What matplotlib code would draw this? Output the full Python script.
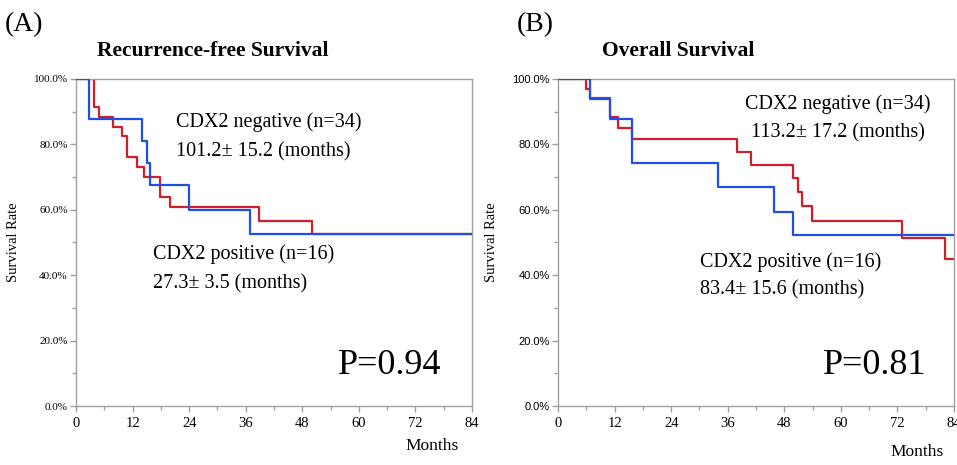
import matplotlib
matplotlib.use("Agg")
import matplotlib.pyplot as plt
from matplotlib.ticker import MultipleLocator, FuncFormatter

# ---- data ----
rfs_neg_t = [0, 3.9, 4.95, 7.9, 9.8, 10.75, 12.9, 14.5, 17.8, 19.9, 38.9, 50.0, 84]
rfs_neg_s = [100, 91.5, 88.5, 85.4, 82.6, 76.2, 73.2, 70.1, 64.0, 61.0, 56.6, 52.5, 52.5]
rfs_pos_t = [0, 2.8, 13.9, 15.0, 15.8, 23.9, 36.9, 84]
rfs_pos_s = [100, 87.7, 81.0, 74.2, 67.5, 60.0, 52.6, 52.6]

os_neg_t = [0, 5.9, 6.8, 11.0, 12.8, 15.8, 37.9, 40.9, 49.9, 50.9, 51.8, 53.9, 73.0, 82.0, 84]
os_neg_s = [100, 97.0, 94.1, 88.3, 85.1, 81.7, 77.8, 73.6, 69.8, 65.3, 61.2, 56.6, 51.5, 45.0, 45.0]
os_pos_t = [0, 6.8, 11.0, 15.8, 33.9, 45.8, 49.9, 84]
os_pos_s = [100, 93.9, 87.7, 74.2, 67.1, 59.4, 52.3, 52.3]

panel_letters = ["(A)", "(B)"]
panel_titles = ["Recurrence-free Survival", "Overall Survival"]
neg_labels = ["CDX2 negative (n=34)", "CDX2 negative (n=34)"]
neg_means = ["101.2\u00b1 15.2 (months)", "113.2\u00b1 17.2 (months)"]
pos_labels = ["CDX2 positive (n=16)", "CDX2 positive (n=16)"]
pos_means = ["27.3\u00b1 3.5 (months)", "83.4\u00b1 15.6 (months)"]
p_values = ["P=0.94", "P=0.81"]
x_ticks = [0, 12, 24, 36, 48, 60, 72, 84]
y_ticks = [0, 20, 40, 60, 80, 100]

RED = "#cf1f2a"
BLUE = "#1f4ee0"
SPINE = "#a0a0a0"
SERIF = "Liberation Serif"
SANS = "Liberation Sans"

fig = plt.figure(figsize=(9.57, 4.65), dpi=100)
axA = fig.add_axes([76/957, 59/465, 396/957, 327/465])
axB = fig.add_axes([558/957, 59/465, 396/957, 327/465])

curves = [(rfs_neg_t, rfs_neg_s, rfs_pos_t, rfs_pos_s),
          (os_neg_t, os_neg_s, os_pos_t, os_pos_s)]

# text positions (data coordinates)
neg_pos = [(21.2, 86.8, 21.2, 77.8), (39.6, 92.2, 41.0, 83.5)]
pos_pos = [(16.3, 46.5, 16.3, 37.3), (30.1, 44.0, 30.1, 35.5)]
p_pos = [(55.6, 12.5), (56.2, 12.5)]
ytick_fonts = [SERIF, SANS]

for i, ax in enumerate([axA, axB]):
    nt, ns, pt, ps = curves[i]
    ax.step(nt, ns, where="post", color=RED, lw=1.6, zorder=2)
    ax.step(pt, ps, where="post", color=BLUE, lw=1.6, zorder=3)
    ax.set_xlim(0, 84)
    ax.set_ylim(0, 100)
    ax.set_xticks(x_ticks)
    ax.xaxis.set_minor_locator(MultipleLocator(6))
    ax.set_yticks(y_ticks)
    ax.yaxis.set_minor_locator(MultipleLocator(10))
    ax.yaxis.set_major_formatter(FuncFormatter(lambda v, p: f"{v:.1f}%"))
    for s in ax.spines.values():
        s.set_color(SPINE)
        s.set_linewidth(1.0)
    ax.tick_params(which="both", direction="out", color=SPINE, width=1.0)
    ax.tick_params(which="major", length=4)
    ax.tick_params(which="minor", length=3)
    ax.tick_params(axis="x", pad=4)
    ax.tick_params(axis="y", pad=2)
    for lab in ax.get_xticklabels():
        lab.set_fontfamily(SERIF)
        lab.set_fontsize(10.5)
    for lab in ax.get_yticklabels():
        lab.set_fontfamily(ytick_fonts[i])
        lab.set_fontsize(8)
    ax.set_ylabel("Survival Rate", fontfamily=SERIF, fontsize=10.5, labelpad=10)

    x, y, x2, y2 = neg_pos[i]
    ax.text(x, y, neg_labels[i], fontfamily=SERIF, fontsize=14.5, va="center", ha="left")
    ax.text(x2, y2, neg_means[i], fontfamily=SERIF, fontsize=14.5, va="center", ha="left")
    x, y, x2, y2 = pos_pos[i]
    ax.text(x, y, pos_labels[i], fontfamily=SERIF, fontsize=14.5, va="center", ha="left")
    ax.text(x2, y2, pos_means[i], fontfamily=SERIF, fontsize=14.5, va="center", ha="left")
    px, py = p_pos[i]
    ax.text(px, py, p_values[i], fontfamily=SERIF, fontsize=26, va="center", ha="left")

# panel letters, titles, axis labels
fig.text(5/957, 1 - 25/465, panel_letters[0], fontfamily=SERIF, fontsize=20, va="center", ha="left")
fig.text(97/957, 1 - 51/465, panel_titles[0], fontfamily=SERIF, fontsize=15.5,
         fontweight="bold", va="center", ha="left")
fig.text(517/957, 1 - 25/465, panel_letters[1], fontfamily=SERIF, fontsize=20, va="center", ha="left")
fig.text(602/957, 1 - 51/465, panel_titles[1], fontfamily=SERIF, fontsize=15.5,
         fontweight="bold", va="center", ha="left")
fig.text(432/957, 1 - 446/465, "Months", fontfamily=SERIF, fontsize=12.5, va="center", ha="center")
fig.text(917/957, 1 - 452/465, "Months", fontfamily=SERIF, fontsize=12.5, va="center", ha="center")

fig.savefig("out.png", dpi=100, facecolor="white")
